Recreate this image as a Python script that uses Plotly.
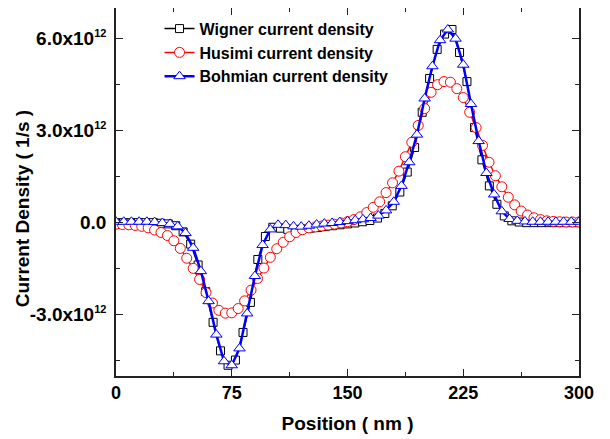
import plotly.graph_objects as go

# ---- data (current density in units of 1e12 1/s) ----
wigner_x = [0, 4.8, 9.7, 14.5, 19.4, 24.2, 29.0, 33.9, 38.7, 43.5,
            48.4, 53.2, 58.1, 62.9, 67.7, 72.6, 77.4, 82.3, 87.1, 91.9,
            96.8, 101.6, 106.5, 111.3, 116.1, 121.0, 125.8, 130.6, 135.5, 140.3,
            145.2, 150.0, 154.8, 159.7, 164.5, 169.4, 174.2, 179.0, 183.9, 188.7,
            193.5, 198.4, 203.2, 208.1, 212.9, 217.7, 222.6, 227.4, 232.3, 237.1,
            241.9, 246.8, 251.6, 256.5, 261.3, 266.1, 271.0, 275.8, 280.6, 285.5,
            290.3, 295.2, 300.0]
wigner_y = [0.0, 0.0, 0.0, 0.0, 0.0, 0.0, -0.02, -0.04, -0.1, -0.3,
            -0.7, -1.38, -2.25, -3.25, -4.18, -4.65, -4.48, -3.58, -2.6, -1.2,
            -0.45, -0.15, -0.18, -0.22, -0.22, -0.2, -0.18, -0.16, -0.13, -0.1,
            -0.07, -0.04, -0.01, 0.03, 0.07, 0.15, 0.3, 0.55, 1.0, 1.65,
            2.45, 3.6, 4.7, 5.65, 6.15, 6.3, 5.55, 4.6, 3.1, 2.05,
            1.2, 0.6, 0.22, 0.06, 0.02, 0.0, 0.0, 0.0, 0.0, 0.0,
            0.0, 0.0, 0.0]

husimi_x = [0, 4.17, 8.33, 12.5, 16.67, 20.83, 25, 29.17, 33.33, 37.5,
            41.67, 45.83, 50, 54.17, 58.33, 62.5, 66.67, 70.83, 75, 79.17,
            83.33, 87.5, 91.67, 95.83, 100, 104.17, 108.33, 112.5, 116.67, 120.83,
            125, 129.17, 133.33, 137.5, 141.67, 145.83, 150, 154.17, 158.33, 162.5,
            166.67, 170.83, 175, 179.17, 183.33, 187.5, 191.67, 195.83, 200, 204.17,
            208.33, 212.5, 216.67, 220.83, 225, 229.17, 233.33, 237.5, 241.67, 245.83,
            250, 254.17, 258.33, 262.5, 266.67, 270.83, 275, 279.17, 283.33, 287.5,
            291.67, 295.83, 300]
husimi_y = [-0.05, -0.06, -0.07, -0.09, -0.12, -0.17, -0.24, -0.32, -0.42, -0.59,
            -0.84, -1.16, -1.49, -1.85, -2.28, -2.62, -2.86, -2.95, -2.94, -2.8,
            -2.55, -2.2, -1.82, -1.48, -1.13, -0.85, -0.64, -0.46, -0.32, -0.23,
            -0.17, -0.14, -0.11, -0.08, -0.05, -0.01, 0.03, 0.1, 0.19, 0.33,
            0.5, 0.68, 0.98, 1.3, 1.68, 2.15, 2.62, 3.17, 3.72, 4.25,
            4.5, 4.6, 4.58, 4.37, 4.08, 3.6, 3.1, 2.52, 1.97, 1.53,
            1.17, 0.83, 0.58, 0.38, 0.25, 0.16, 0.1, 0.06, 0.04, 0.03,
            0.02, 0.02, 0.02]

bohm_x = [0, 5, 10, 15, 20, 25, 30, 35, 40, 45,
          50, 55, 60, 65, 70, 75, 80, 85, 90, 95,
          100, 105, 110, 115, 120, 125, 130, 135, 140, 145,
          150, 155, 160, 165, 170, 175, 180, 185, 190, 195,
          200, 205, 210, 215, 220, 225, 230, 235, 240, 245,
          250, 255, 260, 265, 270, 275, 280, 285, 290, 295, 300]
bohm_y = [0.03, 0.03, 0.03, 0.03, 0.03, 0.02, -0.01, -0.04, -0.12, -0.34,
          -0.82, -1.58, -2.56, -3.65, -4.52, -4.65, -4.1, -2.96, -1.74, -0.73,
          -0.22, -0.07, -0.08, -0.12, -0.13, -0.1, -0.06, -0.03, -0.01, 0.02,
          0.05, 0.08, 0.11, 0.15, 0.23, 0.4, 0.68, 1.2, 1.97, 2.87,
          4.05, 5.1, 5.95, 6.3, 6.0, 5.15, 3.87, 2.66, 1.62, 0.92,
          0.37, 0.12, 0.06, 0.04, 0.03, 0.03, 0.03, 0.03, 0.03, 0.03, 0.03]

x_ticks = [0, 75, 150, 225, 300]
x_minor = [37.5, 112.5, 187.5, 262.5]
y_ticks = [-3, 0, 3, 6]
y_ticklabels = ["-3.0x10", "0.0", "3.0x10", "6.0x10"]
y_tickexp = ["12", "", "12", "12"]
y_minor = [-4.5, -1.5, 1.5, 4.5]

FONT = "Liberation Sans, Arial, sans-serif"


def ylabel(base, exp):
    if not exp:
        return "<b>%s</b>" % base
    return "<b>%s<sup><span style='font-size:11px'>%s</span></sup></b>" % (base, exp)


fig = go.Figure()
fig.add_trace(go.Scatter(
    x=wigner_x, y=wigner_y, name="<b>Wigner current density</b>", mode="lines+markers",
    line=dict(color="black", width=1.5),
    marker=dict(symbol="square", size=8, color="white", line=dict(color="black", width=1))))
fig.add_trace(go.Scatter(
    x=husimi_x, y=husimi_y, name="<b>Husimi current density</b>", mode="lines+markers",
    line=dict(color="red", width=1.5),
    marker=dict(symbol="circle", size=10, color="white", line=dict(color="red", width=1))))
fig.add_trace(go.Scatter(
    x=bohm_x, y=bohm_y, name="<b>Bohmian current density</b>", mode="lines+markers",
    line=dict(color="blue", width=2.5),
    marker=dict(symbol="triangle-up", size=10, color="white", line=dict(color="blue", width=1))))

axis_common = dict(showline=True, linecolor="#222", linewidth=1.5, mirror="ticks",
                   ticks="inside", ticklen=7, tickwidth=1.2, tickcolor="#222",
                   showgrid=False, zeroline=False, automargin=False)

fig.update_layout(
    width=610, height=439,
    margin=dict(l=108, r=39, t=0, b=71),
    paper_bgcolor="white", plot_bgcolor="white",
    showlegend=True,
    legend=dict(x=0.094, y=0.99, xanchor="left", yanchor="top",
                font=dict(family=FONT, size=16, color="black"),
                bgcolor="rgba(0,0,0,0)", borderwidth=0, tracegroupgap=0),
    xaxis=dict(range=[0, 300], tickmode="array", tickvals=x_ticks,
               ticktext=["<b>%d</b>" % v for v in x_ticks],
               tickfont=dict(family=FONT, size=18, color="black"),
               minor=dict(tickvals=x_minor, ticks="inside", ticklen=4, tickcolor="#222"),
               title=dict(text="<b>Position ( nm )</b>", font=dict(family=FONT, size=19, color="black"),
                          standoff=14),
               **axis_common),
    yaxis=dict(range=[-5, 7], tickmode="array", tickvals=y_ticks,
               ticktext=[ylabel(b, e) for b, e in zip(y_ticklabels, y_tickexp)],
               tickfont=dict(family=FONT, size=19, color="black"),
               ticklabelstandoff=4,
               minor=dict(tickvals=y_minor, ticks="inside", ticklen=4, tickcolor="#222"),
               **axis_common),
    annotations=[dict(text="<b>Current Density ( 1/s )</b>", textangle=-90,
                      xref="paper", yref="paper", x=-0.2, y=0.454,
                      xanchor="center", yanchor="middle", showarrow=False,
                      font=dict(family=FONT, size=19, color="black"))],
)

fig.write_html("out.html")
